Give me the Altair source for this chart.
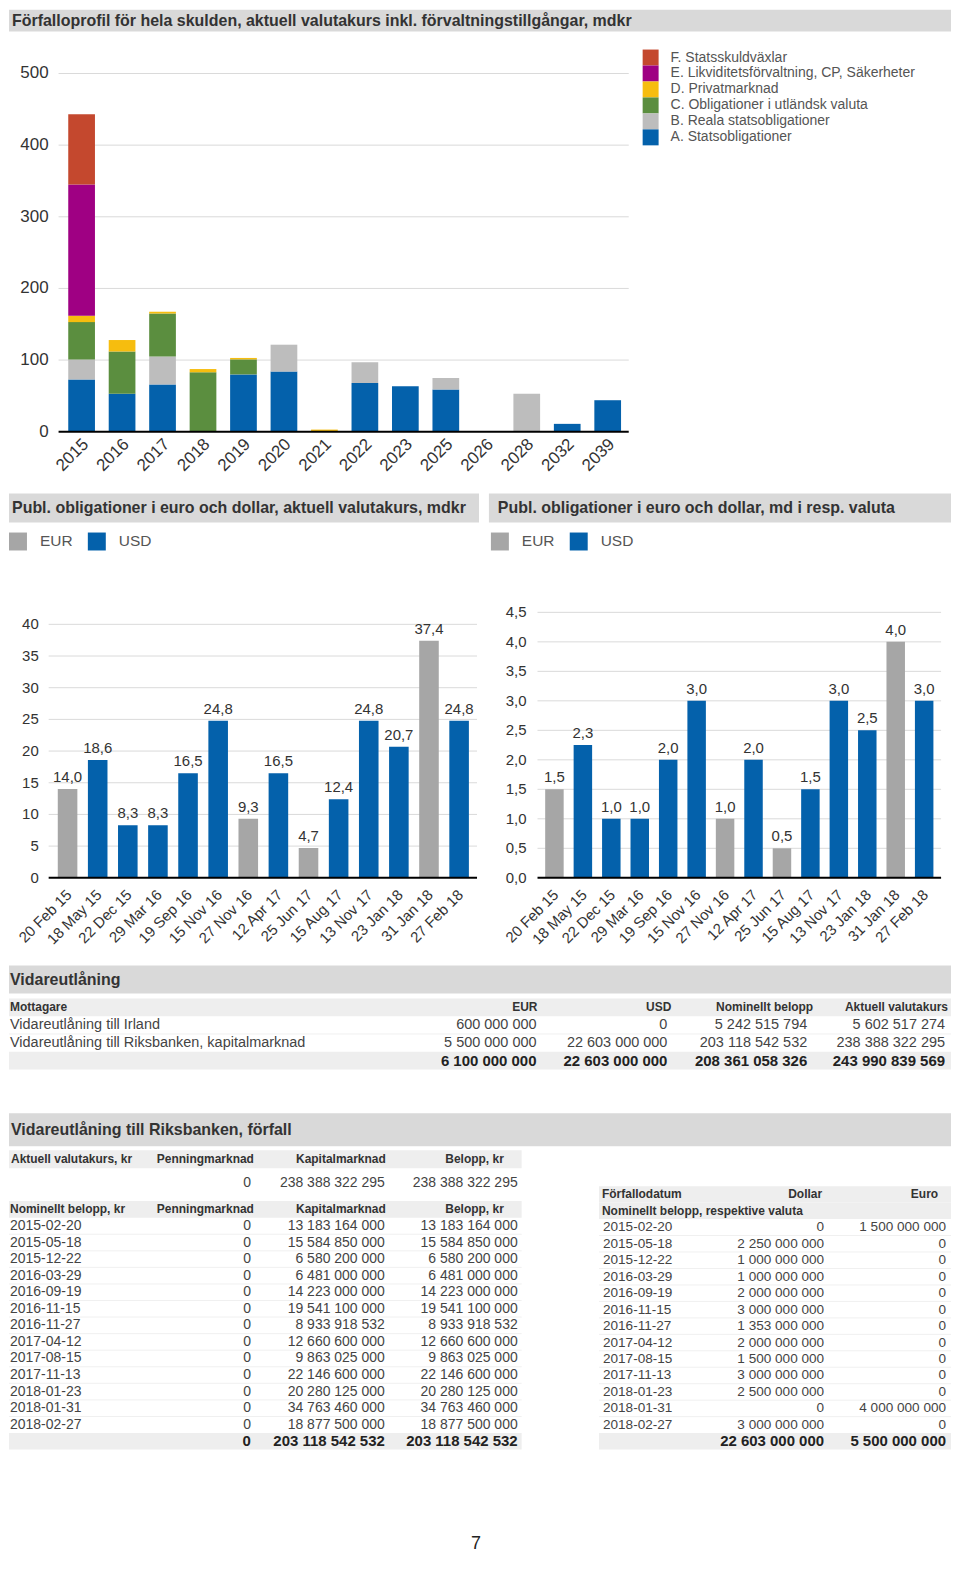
import math
import altair as alt
import pandas as pd

# ---------------------------------------------------------------- data
TITLE_MAIN = "Förfalloprofil för hela skulden, aktuell valutakurs inkl. förvaltningstillgångar, mdkr"
TITLE_SEK = "Publ. obligationer i euro och dollar, aktuell valutakurs, mdkr"
TITLE_FX = "Publ. obligationer i euro och dollar, md i resp. valuta"
TITLE_V = "Vidareutlåning"
TITLE_R = "Vidareutlåning till Riksbanken, förfall"
PAGE_NO = "7"

YEARS = ["2015", "2016", "2017", "2018", "2019", "2020", "2021", "2022",
         "2023", "2025", "2026", "2028", "2032", "2039"]
SERIES = ["A. Statsobligationer", "B. Reala statsobligationer",
          "C. Obligationer i utländsk valuta", "D. Privatmarknad",
          "E. Likviditetsförvaltning, CP, Säkerheter", "F. Statsskuldväxlar"]
A_STATS = [73, 53, 66, 0, 80, 84, 0, 68, 63.5, 59, 0, 0, 11, 44]
B_REALA = [28, 0, 39, 0, 0, 37.5, 0, 29, 0, 16, 0, 53, 0, 0]
C_UTL = [52, 59, 60, 83, 21, 0, 0, 0, 0, 0, 0, 0, 0, 0]
D_PRIV = [9, 16, 2.5, 4.5, 2, 0, 3, 0, 0, 0, 0, 0, 0, 0]
E_LIKV = [183, 0, 0, 0, 0, 0, 0, 0, 0, 0, 0, 0, 0, 0]
F_SSV = [98, 0, 0, 0, 0, 0, 0, 0, 0, 0, 0, 0, 0, 0]
Y1_TICKS = [0, 100, 200, 300, 400, 500]

BOND_DATES = ["20 Feb 15", "18 May 15", "22 Dec 15", "29 Mar 16", "19 Sep 16",
              "15 Nov 16", "27 Nov 16", "12 Apr 17", "25 Jun 17", "15 Aug 17",
              "13 Nov 17", "23 Jan 18", "31 Jan 18", "27 Feb 18"]
BOND_CUR = ["EUR", "USD", "USD", "USD", "USD", "USD", "EUR", "USD", "EUR",
            "USD", "USD", "USD", "EUR", "USD"]
BOND_SEK = [14.0, 18.6, 8.3, 8.3, 16.5, 24.8, 9.3, 16.5, 4.7, 12.4, 24.8, 20.7, 37.4, 24.8]
BOND_FX = [1.5, 2.25, 1.0, 1.0, 2.0, 3.0, 1.0, 2.0, 0.5, 1.5, 3.0, 2.5, 4.0, 3.0]
CURRENCIES = ["EUR", "USD"]
Y2_TICKS = [0, 5, 10, 15, 20, 25, 30, 35, 40]
Y3_TICKS = [0, 0.5, 1.0, 1.5, 2.0, 2.5, 3.0, 3.5, 4.0, 4.5]

V_HEAD = ["Mottagare", "EUR", "USD", "Nominellt belopp", "Aktuell valutakurs"]
V_RECIPIENT = ["Vidareutlåning till Irland", "Vidareutlåning till Riksbanken, kapitalmarknad"]
V_EUR = ["600 000 000", "5 500 000 000"]
V_USD = ["0", "22 603 000 000"]
V_NOM = ["5 242 515 794", "203 118 542 532"]
V_AKT = ["5 602 517 274", "238 388 322 295"]
V_TOTAL = ["", "6 100 000 000", "22 603 000 000", "208 361 058 326", "243 990 839 569"]

R_HEAD_AKT = ["Aktuell valutakurs, kr", "Penningmarknad", "Kapitalmarknad", "Belopp, kr"]
R_AKT_ROW = ["", "0", "238 388 322 295", "238 388 322 295"]
R_HEAD_NOM = ["Nominellt belopp, kr", "Penningmarknad", "Kapitalmarknad", "Belopp, kr"]
R_DATES = ["2015-02-20", "2015-05-18", "2015-12-22", "2016-03-29", "2016-09-19",
           "2016-11-15", "2016-11-27", "2017-04-12", "2017-08-15", "2017-11-13",
           "2018-01-23", "2018-01-31", "2018-02-27"]
R_PENNING = ["0"] * 13
R_KAPITAL = ["13 183 164 000", "15 584 850 000", "6 580 200 000", "6 481 000 000",
             "14 223 000 000", "19 541 100 000", "8 933 918 532", "12 660 600 000",
             "9 863 025 000", "22 146 600 000", "20 280 125 000", "34 763 460 000",
             "18 877 500 000"]
R_BELOPP = ["13 183 164 000", "15 584 850 000", "6 580 200 000", "6 481 000 000",
            "14 223 000 000", "19 541 100 000", "8 933 918 532", "12 660 600 000",
            "9 863 025 000", "22 146 600 000", "20 280 125 000", "34 763 460 000",
            "18 877 500 000"]
R_TOTAL = ["", "0", "203 118 542 532", "203 118 542 532"]

F_HEAD = ["Förfallodatum", "Dollar", "Euro"]
F_SUBHEAD = ["Nominellt belopp, respektive valuta", "", ""]
F_DOLLAR = ["0", "2 250 000 000", "1 000 000 000", "1 000 000 000", "2 000 000 000",
            "3 000 000 000", "1 353 000 000", "2 000 000 000", "1 500 000 000",
            "3 000 000 000", "2 500 000 000", "0", "3 000 000 000"]
F_EURO = ["1 500 000 000", "0", "0", "0", "0", "0", "0", "0", "0", "0", "0",
          "4 000 000 000", "0"]
F_TOTAL = ["", "22 603 000 000", "5 500 000 000"]

# ---------------------------------------------------------------- style
FONT = "Liberation Sans"
TXT = "#333333"
BODY = "#444444"
HEAD_BG = "#d9d9d9"
ROW_BG = "#eeeeee"
ROW_LINE = "#f0f0f0"
GRID = "#dadada"
SERIES_COLORS = ["#0461ab", "#bdbdbd", "#5b8e3f", "#f6bd0f", "#9f0083", "#c4482e"]
CUR_COLORS = ["#a6a6a6", "#0461ab"]
PAGE_W = 944


def X(ref):
    """map a horizontal reference position onto the page (page margin is 8px)"""
    return max(0.0, (ref - 8) * PAGE_W / 950)


def sv1(v):
    return f"{math.floor(v * 10 + 0.5) / 10:.1f}".replace(".", ",")


def spacer(h):
    return alt.Chart(pd.DataFrame({"s": [0]})).mark_point(opacity=0, size=0).encode(
        x=alt.value(0), y=alt.value(0)).properties(width=PAGE_W, height=h)


def header_layers(text, x0, x1, h, tx, size=16, weight="bold"):
    df = pd.DataFrame({"t": [text]})
    bg = alt.Chart(df).mark_rect(color=HEAD_BG).encode(
        x=alt.value(x0), x2=alt.value(x1), y=alt.value(0), y2=alt.value(h))
    tt = alt.Chart(df).mark_text(align="left", baseline="middle", fontSize=size,
                                 fontWeight=weight, color=TXT).encode(
        x=alt.value(x0 + tx), y=alt.value(h / 2), text="t:N")
    return [bg, tt]


def header_bar(text, h, tx, size=16):
    return alt.layer(*header_layers(text, 0, PAGE_W, h, tx, size)).properties(width=PAGE_W, height=h)


STYLES = {
    "head": (12, "bold", TXT),
    "body": (14, "normal", BODY),
    "total": (15, "bold", "#222222"),
}


def table(name, rows, x0, x1, y0, y1, col_specs, bg_kinds, styles=STYLES):
    recs, ids = [], []
    for i, (kind, cells) in enumerate(rows):
        rid = f"{name}{i:02d}"
        ids.append(rid)
        for j, c in enumerate(cells):
            recs.append({"rid": rid, "kind": kind, "col": j, "txt": c})
    df = pd.DataFrame(recs)

    def yenc(band):
        return alt.Y("rid:N", scale=alt.Scale(type="band", domain=ids, range=[y0, y1],
                                              paddingInner=0, paddingOuter=0),
                     axis=None, bandPosition=band)

    base = alt.Chart(df)
    layers = []
    bg_rows = [rid for rid, (k, _) in zip(ids, rows) if k in bg_kinds]
    body_rows = [rid for rid, (k, _) in zip(ids, rows) if k == "body"]
    if bg_rows:
        layers.append(base.transform_filter(
            alt.FieldOneOfPredicate(field="rid", oneOf=bg_rows)).transform_filter(
            "datum.col == 0").mark_rect(color=ROW_BG).encode(
            y=alt.Y("rid:N", scale=alt.Scale(type="band", domain=ids, range=[y0, y1],
                                             paddingInner=0, paddingOuter=0), axis=None),
            x=alt.value(x0), x2=alt.value(x1)))
    if len(body_rows) > 1:
        layers.append(base.transform_filter(
            alt.FieldOneOfPredicate(field="rid", oneOf=body_rows[:-1])).transform_filter(
            "datum.col == 0").mark_rule(color=ROW_LINE, strokeWidth=1).encode(
            y=yenc(1), x=alt.value(x0), x2=alt.value(x1)))
    kinds = sorted(set(k for k, _ in rows))
    for kind in kinds:
        size, weight, color = styles[kind]
        for j, (xp, al) in enumerate(col_specs[kind]):
            layers.append(base.transform_filter(
                f"datum.kind == '{kind}' && datum.col == {j}").mark_text(
                align=al, baseline="middle", fontSize=size, fontWeight=weight,
                color=color).encode(y=yenc(0.5), x=alt.value(xp), text="txt:N"))
    return alt.layer(*layers)


# ---------------------------------------------------------------- section 1: stacked bars
S1_TOP = 30          # reference y of the section's top
S1_H = 463
y_zero1, y_top1 = 431 - S1_TOP, 72 - S1_TOP
recs = []
for k, (name, vals) in enumerate(zip(SERIES, [A_STATS, B_REALA, C_UTL, D_PRIV, E_LIKV, F_SSV])):
    for yr, v in zip(YEARS, vals):
        if v > 0:
            recs.append({"year": yr, "series": name, "value": v, "ord": k})
df1 = pd.DataFrame(recs)
ticks1 = pd.DataFrame({"t": Y1_TICKS, "lab": [str(t) for t in Y1_TICKS]})
years_df = pd.DataFrame({"year": YEARS})
zero_df = pd.DataFrame({"z": [0]})

ys1 = alt.Scale(domain=[0, 500], range=[y_zero1, y_top1], nice=False)
xs1 = alt.Scale(domain=YEARS, range=[X(60), X(633)], paddingInner=0.34, paddingOuter=0.19)

grid1 = alt.Chart(ticks1).transform_filter("datum.t > 0").mark_rule(
    color=GRID, strokeWidth=1).encode(y=alt.Y("t:Q", scale=ys1, axis=None),
                                       x=alt.value(X(58)), x2=alt.value(X(633)))
bars1 = alt.Chart(df1).mark_bar().encode(
    x=alt.X("year:N", scale=xs1, axis=None),
    y=alt.Y("value:Q", stack="zero", scale=ys1, axis=None),
    color=alt.Color("series:N",
                    scale=alt.Scale(domain=list(reversed(SERIES)), range=list(reversed(SERIES_COLORS))),
                    legend=alt.Legend(orient="none", legendX=X(643) + 4, legendY=48 - S1_TOP,
                                      title=None, symbolType="square", symbolSize=256,
                                      symbolStrokeWidth=0, rowPadding=0, labelFontSize=14,
                                      labelColor="#555555", labelOffset=12, labelLimit=0,
                                      padding=0)),
    order=alt.Order("ord:Q", sort="ascending"),
)
zero1 = alt.Chart(zero_df).mark_rule(color="#000000", strokeWidth=2).encode(
    y=alt.Y("z:Q", scale=ys1, axis=None), x=alt.value(X(58)), x2=alt.value(X(633)))
ylab1 = alt.Chart(ticks1).mark_text(align="right", baseline="middle", fontSize=17,
                                    color=TXT).encode(
    y=alt.Y("t:Q", scale=ys1, axis=None), x=alt.value(X(48)), text="lab:N")
xlab1 = alt.Chart(years_df).mark_text(align="right", baseline="middle", angle=315, fontSize=17,
                                      color=TXT, dx=3, dy=3).encode(
    x=alt.X("year:N", scale=xs1, axis=None), y=alt.value(y_zero1 + 10), text="year:N")
section1 = alt.layer(grid1, bars1, zero1, ylab1, xlab1).properties(width=PAGE_W, height=S1_H)

# ---------------------------------------------------------------- section 2: two bond charts
S2_TOP = 522
S2_H = 444


def bond_layers(values, ticks, x0, x1, gx0, ylab_x, y_top_ref, dmax, legend_x):
    y_zero = 878 - S2_TOP
    y_top = y_top_ref - S2_TOP
    ys = alt.Scale(domain=[0, dmax], range=[y_zero, y_top], nice=False)
    xs = alt.Scale(domain=BOND_DATES, range=[x0, x1], paddingInner=0.35, paddingOuter=0.27)
    df = pd.DataFrame({"date": BOND_DATES, "cur": BOND_CUR, "value": values,
                       "label": [sv1(v) for v in values]})
    tdf = pd.DataFrame({"t": ticks, "lab": [sv1(t) if dmax < 10 else str(int(t)) for t in ticks]})
    grid = alt.Chart(tdf).transform_filter("datum.t > 0").mark_rule(
        color=GRID, strokeWidth=1).encode(y=alt.Y("t:Q", scale=ys, axis=None),
                                           x=alt.value(gx0), x2=alt.value(x1))
    bars = alt.Chart(df).mark_bar().encode(
        x=alt.X("date:N", scale=xs, axis=None),
        y=alt.Y("value:Q", scale=ys, axis=None),
        color=alt.Color("cur:N", scale=alt.Scale(domain=CURRENCIES, range=CUR_COLORS),
                        legend=alt.Legend(orient="none", direction="horizontal", legendX=legend_x,
                                          legendY=532 - S2_TOP, title=None, symbolType="square",
                                          symbolSize=324, symbolStrokeWidth=0, labelFontSize=15.5,
                                          labelColor="#555555", labelOffset=13, columnPadding=15,
                                          padding=0)))
    vals = alt.Chart(df).mark_text(baseline="bottom", dy=-4, fontSize=15, color=TXT).encode(
        x=alt.X("date:N", scale=xs, axis=None), y=alt.Y("value:Q", scale=ys, axis=None),
        text="label:N")
    zero = alt.Chart(zero_df).mark_rule(color="#000000", strokeWidth=2).encode(
        y=alt.Y("z:Q", scale=ys, axis=None), x=alt.value(gx0), x2=alt.value(x1))
    ylab = alt.Chart(tdf).mark_text(align="right", baseline="middle", fontSize=15,
                                    color=TXT).encode(
        y=alt.Y("t:Q", scale=ys, axis=None), x=alt.value(ylab_x), text="lab:N")
    xlab = alt.Chart(df).mark_text(align="right", baseline="middle", angle=315, fontSize=15,
                                   color=TXT, dx=-3, dy=5).encode(
        x=alt.X("date:N", scale=xs, axis=None), y=alt.value(y_zero + 9), text="date:N")
    return alt.layer(grid, bars, zero, vals, ylab, xlab)


left_chart = bond_layers(BOND_SEK, Y2_TICKS, X(49), X(480), X(48), X(38), 624, 40, X(5))
right_chart = bond_layers(BOND_FX, Y3_TICKS, X(541), X(948), X(541), X(530), 612, 4.5, X(494))
section2 = alt.layer(left_chart, right_chart).resolve_scale(
    x="independent", y="independent", color="independent").properties(width=PAGE_W, height=S2_H)

mid_headers = alt.layer(
    *header_layers(TITLE_SEK, 0, X(482), 29, 3),
    *header_layers(TITLE_FX, X(492), PAGE_W, 29, X(501) - X(492)),
).properties(width=PAGE_W, height=29)

# ---------------------------------------------------------------- tables
v_rows = [("head", V_HEAD)]
for i in range(len(V_RECIPIENT)):
    v_rows.append(("body", [V_RECIPIENT[i], V_EUR[i], V_USD[i], V_NOM[i], V_AKT[i]]))
v_rows.append(("total", V_TOTAL))
V_STYLES = {"head": (12, "bold", TXT), "body": (14.5, "normal", BODY), "total": (15, "bold", "#222222")}
v_vals = [(1, "left"), (X(540), "right"), (X(672), "right"), (X(813), "right"), (X(952), "right")]
table_v = table("v", v_rows, 0, PAGE_W, 0, 71, {
    "head": [(1, "left"), (X(541), "right"), (X(676), "right"), (X(819), "right"), (X(955), "right")],
    "body": v_vals, "total": v_vals,
}, {"head", "total"}, V_STYLES).properties(width=PAGE_W, height=71)

S4_TOP = 1147      # reference y of the bottom section's top
S4_SHIFT = 3       # fine vertical correction of the table rows
S4_H = 305


def sy4(ref):
    return ref - S4_TOP + S4_SHIFT


L_X1 = X(525)
l_head_cols = [(2, "left"), (X(255), "right"), (X(388), "right"), (X(507), "right")]
l_val_cols = [(1, "left"), (X(252), "right"), (X(387), "right"), (X(521), "right")]
table_l1a = table("la", [("head", R_HEAD_AKT)], 0, L_X1, sy4(1148), sy4(1166),
                  {"head": l_head_cols}, {"head"})
table_l1b = table("lb", [("body", R_AKT_ROW)], 0, L_X1, sy4(1172), sy4(1190),
                  {"body": l_val_cols}, set())
l2_rows = [("head", R_HEAD_NOM)]
for i in range(len(R_DATES)):
    l2_rows.append(("body", [R_DATES[i], R_PENNING[i], R_KAPITAL[i], R_BELOPP[i]]))
l2_rows.append(("total", R_TOTAL))
table_l2 = table("lc", l2_rows, 0, L_X1, sy4(1199), sy4(1199) + 16.6 * 15, {
    "head": [(1, "left")] + l_head_cols[1:], "body": l_val_cols, "total": l_val_cols,
}, {"head", "total"})

f_rows = [("head", F_HEAD), ("head", F_SUBHEAD)]
for i in range(len(R_DATES)):
    f_rows.append(("body", [R_DATES[i], F_DOLLAR[i], F_EURO[i]]))
f_rows.append(("total", F_TOTAL))
F_STYLES = {"head": (12, "bold", TXT), "body": (13.6, "normal", BODY), "total": (15, "bold", "#222222")}
f_vals = [(X(607), "left"), (X(830), "right"), (X(953), "right")]
table_r = table("ra", f_rows, X(603), PAGE_W, sy4(1184), sy4(1184) + 16.5 * 16, {
    "head": [(X(606), "left"), (X(828), "right"), (X(945), "right")],
    "body": f_vals, "total": f_vals,
}, {"head", "total"}, F_STYLES)

section4 = alt.layer(table_l1a, table_l1b, table_l2, table_r).resolve_scale(
    y="independent").properties(width=PAGE_W, height=S4_H)

page_df = pd.DataFrame({"p": [PAGE_NO]})
page = alt.Chart(page_df).mark_text(align="center", baseline="middle", fontSize=18,
                                    color="#222222").encode(
    x=alt.value(X(479)), y=alt.value(8), text="p:N").properties(width=PAGE_W, height=16)

# ---------------------------------------------------------------- layout (top to bottom)
rows = [
    header_bar(TITLE_MAIN, 22, 3),              # ref   8 ..   30
    section1,                                   # ref  30 ..  493
    mid_headers,                                # ref 493 ..  522
    section2,                                   # ref 522 ..  966
    header_bar(TITLE_V, 28, 1),                 # ref 966 ..  994
    spacer(5),
    table_v,                                    # ref 999 .. 1070
    spacer(44),
    header_bar(TITLE_R, 33, 2),                 # ref 1114 .. 1147
    section4,                                   # ref 1147 .. 1452
    spacer(86),
    page,
]
chart = alt.vconcat(*rows, spacing=0, bounds="flush").resolve_scale(
    x="independent", y="independent", color="independent")
chart = chart.properties(padding=0).configure(font=FONT).configure_view(stroke=None)

chart.save("out.html", embed_options={"renderer": "svg", "actions": False})
